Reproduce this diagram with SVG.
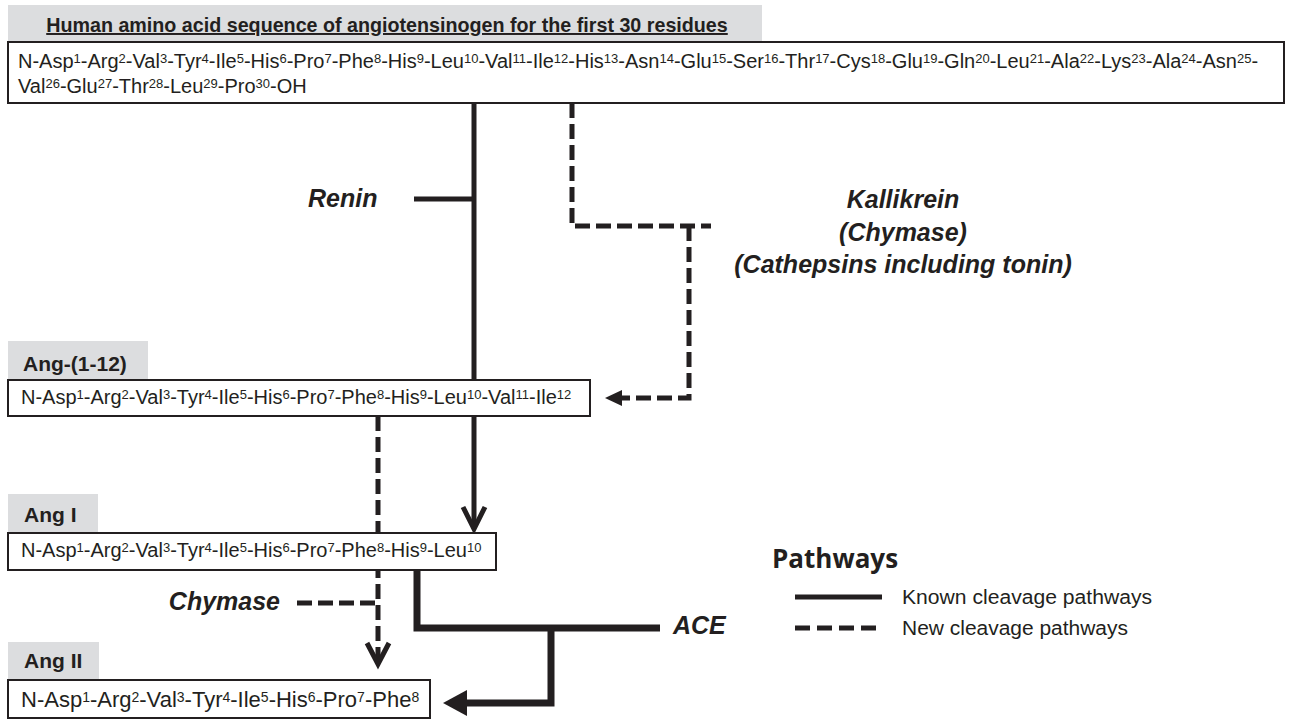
<svg xmlns="http://www.w3.org/2000/svg" width="1290" height="719" viewBox="0 0 1290 719">
<style>
  .seq { font-family: "Liberation Sans", Arial, sans-serif; font-size: 20px; fill: #231f20; }
  .sup { font-size: 13px; baseline-shift: 35%; }
  .big { font-size: 22px; }
  .big .sup { font-size: 14px; }
  .lbl { font-family: "Liberation Sans", Arial, sans-serif; font-size: 21px; font-weight: bold; fill: #231f20; }
  .title { font-family: "Liberation Sans", Arial, sans-serif; font-size: 19.7px; font-weight: bold; fill: #231f20; text-decoration: underline; }
  .enz { font-family: "Liberation Sans", Arial, sans-serif; font-size: 25px; font-weight: bold; font-style: italic; fill: #231f20; }
  .tag { fill: #dcdddf; }
  .box { fill: #ffffff; stroke: #231f20; stroke-width: 2; }
  .solid { fill: none; stroke: #231f20; stroke-width: 5; }
  .thick { fill: none; stroke: #231f20; stroke-width: 7; }
  .dash { fill: none; stroke: #231f20; stroke-width: 5; stroke-dasharray: 15 6; }
  .head { fill: #231f20; }
  .leg { font-family: "Liberation Sans", Arial, sans-serif; font-size: 20px; fill: #231f20; }
</style>

<g id="connectors">
  <!-- Renin: angiotensinogen -> Ang I -->
  <line class="solid" x1="474" y1="103" x2="474" y2="526"/>
  <polyline class="solid" points="463,507 474,529 485,507" stroke-linejoin="miter"/>
  <line class="solid" x1="414" y1="199" x2="474" y2="199"/>
  <!-- Kallikrein / Chymase / Cathepsins: angiotensinogen -> Ang-(1-12) -->
  <path class="dash" d="M572,103 V226 H711"/>
  <path class="dash" d="M689,226 V398 H621"/>
  <polygon class="head" points="605,398 622,390 622,406"/>
  <!-- Ang-(1-12) -> Ang II (dashed) -->
  <line class="dash" x1="378" y1="416" x2="378" y2="660"/>
  <polyline class="solid" points="367,643 378,664 389,643" stroke-linejoin="miter"/>
  <line class="dash" x1="297" y1="603" x2="378" y2="603"/>
  <!-- ACE: Ang I -> Ang II -->
  <path class="thick" d="M417,570 V628 H660"/>
  <path class="thick" d="M551,628 V703 H464"/>
  <polygon class="head" points="443,703 467,690 467,716"/>
</g>

<g id="angiotensinogen">
  <rect class="tag" x="8" y="5" width="754" height="37"/>
  <text class="title" x="387" y="32" text-anchor="middle">Human amino acid sequence of angiotensinogen for the first 30 residues</text>
  <rect class="box" x="8" y="42" width="1276" height="61"/>
  <text class="seq" x="18" y="68">N-Asp<tspan class="sup">1</tspan>-Arg<tspan class="sup">2</tspan>-Val<tspan class="sup">3</tspan>-Tyr<tspan class="sup">4</tspan>-Ile<tspan class="sup">5</tspan>-His<tspan class="sup">6</tspan>-Pro<tspan class="sup">7</tspan>-Phe<tspan class="sup">8</tspan>-His<tspan class="sup">9</tspan>-Leu<tspan class="sup">10</tspan>-Val<tspan class="sup">11</tspan>-Ile<tspan class="sup">12</tspan>-His<tspan class="sup">13</tspan>-Asn<tspan class="sup">14</tspan>-Glu<tspan class="sup">15</tspan>-Ser<tspan class="sup">16</tspan>-Thr<tspan class="sup">17</tspan>-Cys<tspan class="sup">18</tspan>-Glu<tspan class="sup">19</tspan>-Gln<tspan class="sup">20</tspan>-Leu<tspan class="sup">21</tspan>-Ala<tspan class="sup">22</tspan>-Lys<tspan class="sup">23</tspan>-Ala<tspan class="sup">24</tspan>-Asn<tspan class="sup">25</tspan>-</text>
  <text class="seq" x="18" y="93">Val<tspan class="sup">26</tspan>-Glu<tspan class="sup">27</tspan>-Thr<tspan class="sup">28</tspan>-Leu<tspan class="sup">29</tspan>-Pro<tspan class="sup">30</tspan>-OH</text>
</g>

<g id="renin">
  <text class="enz" x="308" y="207">Renin</text>
</g>

<g id="kallikrein">
  <text class="enz" x="903" y="208" text-anchor="middle">Kallikrein</text>
  <text class="enz" x="903" y="241" text-anchor="middle">(Chymase)</text>
  <text class="enz" x="903" y="273" text-anchor="middle">(Cathepsins including tonin)</text>
</g>

<g id="ang1-12">
  <rect class="tag" x="8" y="341" width="140" height="39"/>
  <text class="lbl" x="23" y="371">Ang-(1-12)</text>
  <rect class="box" x="8" y="380" width="582" height="36"/>
  <text class="seq" x="21" y="404">N-Asp<tspan class="sup">1</tspan>-Arg<tspan class="sup">2</tspan>-Val<tspan class="sup">3</tspan>-Tyr<tspan class="sup">4</tspan>-Ile<tspan class="sup">5</tspan>-His<tspan class="sup">6</tspan>-Pro<tspan class="sup">7</tspan>-Phe<tspan class="sup">8</tspan>-His<tspan class="sup">9</tspan>-Leu<tspan class="sup">10</tspan>-Val<tspan class="sup">11</tspan>-Ile<tspan class="sup">12</tspan></text>
</g>

<g id="angI">
  <rect class="tag" x="8" y="494" width="90" height="39"/>
  <text class="lbl" x="24" y="522">Ang I</text>
  <rect class="box" x="8" y="533" width="488" height="37"/>
  <text class="seq" x="21" y="557">N-Asp<tspan class="sup">1</tspan>-Arg<tspan class="sup">2</tspan>-Val<tspan class="sup">3</tspan>-Tyr<tspan class="sup">4</tspan>-Ile<tspan class="sup">5</tspan>-His<tspan class="sup">6</tspan>-Pro<tspan class="sup">7</tspan>-Phe<tspan class="sup">8</tspan>-His<tspan class="sup">9</tspan>-Leu<tspan class="sup">10</tspan></text>
</g>

<g id="chymase">
  <text class="enz" x="280" y="610" text-anchor="end">Chymase</text>
</g>

<g id="ace">
  <text class="enz" x="673" y="634">ACE</text>
</g>

<g id="angII">
  <rect class="tag" x="8" y="642" width="91" height="38"/>
  <text class="lbl" x="24" y="668">Ang II</text>
  <rect class="box" x="8" y="680" width="422" height="38"/>
  <text class="seq big" x="21" y="707">N-Asp<tspan class="sup">1</tspan>-Arg<tspan class="sup">2</tspan>-Val<tspan class="sup">3</tspan>-Tyr<tspan class="sup">4</tspan>-Ile<tspan class="sup">5</tspan>-His<tspan class="sup">6</tspan>-Pro<tspan class="sup">7</tspan>-Phe<tspan class="sup">8</tspan></text>
</g>

<g id="legend">
  <text x="772" y="568" font-family="'Open Sans', 'Noto Sans', sans-serif" font-size="26" font-weight="bold" fill="#231f20">Pathways</text>
  <line class="solid" x1="795" y1="597" x2="882" y2="597"/>
  <text class="leg" x="902" y="604" textLength="250" lengthAdjust="spacingAndGlyphs">Known cleavage pathways</text>
  <line class="dash" x1="795" y1="628" x2="882" y2="628" style="stroke-dasharray: 15 7"/>
  <text class="leg" x="902" y="635" textLength="226" lengthAdjust="spacingAndGlyphs">New cleavage pathways</text>
</g>
</svg>
